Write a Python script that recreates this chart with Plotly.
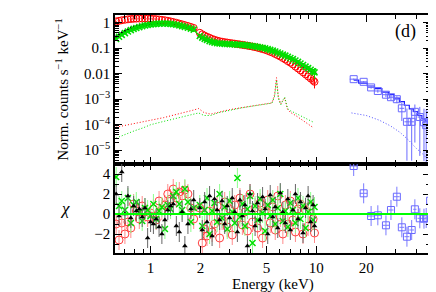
import numpy as np
import plotly.graph_objects as go

# ---------------- data ----------------
E_LO = [0.62, 0.645, 0.67, 0.70, 0.73, 0.76, 0.79, 0.82, 0.855, 0.89,
        0.925, 0.96, 1.0, 1.04, 1.08, 1.125, 1.17, 1.22, 1.27, 1.32,
        1.37, 1.43, 1.49, 1.55, 1.61, 1.68, 1.75, 1.82]
E_HI = [1.98, 2.05, 2.12, 2.19, 2.27, 2.35, 2.43, 2.52, 2.61, 2.70,
        2.80, 2.90, 3.00, 3.11, 3.22, 3.34, 3.46, 3.58, 3.71, 3.84,
        3.98, 4.12, 4.27, 4.42, 4.58, 4.74, 4.91, 5.09, 5.27, 5.46,
        5.65, 5.85, 6.06, 6.28, 6.50, 6.73, 6.97, 7.22, 7.48, 7.75,
        8.02, 8.31, 8.61, 8.92, 9.24, 9.56, 9.75]

RED_LO = [1.12, 1.18, 1.24, 1.30, 1.35, 1.39, 1.42, 1.44, 1.45, 1.45,
          1.45, 1.44, 1.42, 1.40, 1.37, 1.33, 1.29, 1.24, 1.18, 1.12,
          1.06, 0.99, 0.92, 0.86, 0.80, 0.74, 0.68, 0.62]
RED_HI = [0.40, 0.35, 0.31, 0.28, 0.255, 0.23, 0.213, 0.198, 0.187, 0.179,
          0.172, 0.166, 0.160, 0.155, 0.150, 0.145, 0.140, 0.135, 0.130, 0.125,
          0.120, 0.115, 0.110, 0.104, 0.098, 0.092, 0.086, 0.079, 0.072, 0.066,
          0.059, 0.053, 0.047, 0.041, 0.036, 0.031, 0.027, 0.023, 0.019, 0.016,
          0.0135, 0.0113, 0.0094, 0.0078, 0.0065, 0.0054, 0.0048]
GRN_LO = [0.23, 0.28, 0.33, 0.39, 0.45, 0.51, 0.57, 0.62, 0.67, 0.72,
          0.77, 0.81, 0.85, 0.88, 0.90, 0.92, 0.93, 0.93, 0.92, 0.90,
          0.87, 0.83, 0.78, 0.73, 0.68, 0.63, 0.58, 0.53]
GRN_HI = [0.30, 0.26, 0.23, 0.21, 0.19, 0.175, 0.165, 0.158, 0.153, 0.150,
          0.148, 0.146, 0.144, 0.142, 0.140, 0.138, 0.136, 0.134, 0.131, 0.128,
          0.125, 0.121, 0.117, 0.113, 0.108, 0.103, 0.098, 0.092, 0.086, 0.080,
          0.074, 0.068, 0.062, 0.056, 0.051, 0.046, 0.041, 0.037, 0.033, 0.029,
          0.025, 0.022, 0.019, 0.0165, 0.0143, 0.0124, 0.0113]
BLK_LO = [0.27, 0.32, 0.38, 0.44, 0.50, 0.56, 0.62, 0.67, 0.72, 0.77,
          0.81, 0.85, 0.88, 0.91, 0.93, 0.94, 0.95, 0.94, 0.93, 0.91,
          0.88, 0.84, 0.79, 0.74, 0.69, 0.64, 0.59, 0.54]
BLK_HI = [0.29, 0.25, 0.22, 0.20, 0.185, 0.17, 0.16, 0.153, 0.149, 0.146,
          0.144, 0.142, 0.140, 0.138, 0.136, 0.134, 0.132, 0.130, 0.127, 0.124,
          0.121, 0.117, 0.113, 0.109, 0.105, 0.100, 0.095, 0.089, 0.084, 0.078,
          0.072, 0.066, 0.060, 0.055, 0.050, 0.045, 0.040, 0.036, 0.032, 0.028,
          0.0245, 0.0215, 0.0187, 0.0162, 0.014, 0.0121, 0.011]
RELERR_LO = [0.03, 0.03, 0.03, 0.03, 0.03, 0.03, 0.03, 0.03, 0.03, 0.03,
             0.03, 0.03, 0.03, 0.03, 0.03, 0.03, 0.03, 0.03, 0.03, 0.03,
             0.03, 0.03, 0.03, 0.03, 0.03, 0.03, 0.03, 0.03]
RELERR_HI = [0.03, 0.03, 0.03, 0.03, 0.03, 0.03, 0.03, 0.03, 0.03, 0.03,
             0.035, 0.035, 0.035, 0.035, 0.04, 0.04, 0.04, 0.04, 0.045, 0.045,
             0.045, 0.05, 0.05, 0.05, 0.055, 0.055, 0.06, 0.06, 0.065, 0.07,
             0.07, 0.075, 0.08, 0.085, 0.09, 0.095, 0.10, 0.11, 0.12, 0.13,
             0.14, 0.15, 0.16, 0.18, 0.20, 0.24, 0.45]

CHI_BLK_LO = [2.0, -0.2, 4.2, 0.0, 1.8, -0.4, 0.8, 0.3, 0.5, -0.3,
              0.6, -2.4, -0.8, -1.0, -0.5, -1.3, -2.0, -0.6, 0.4, 0.8,
              1.0, -1.2, -1.8, 0.2, -3.2, -1.0, 0.5, 1.4]
CHI_BLK_HI = [0.6, -1.6, 1.2, -0.8, 1.8, -2.2, 1.5, 0.4, -0.6, 1.3,
              -1.0, 0.8, -0.4, 1.6, 0.2, -1.8, 1.4, -0.2, 0.9, -3.2,
              2.0, 0.3, -1.2, 1.1, -0.6, 1.7, 0.5, -2.0, 1.9, -0.3,
              0.7, -1.4, 2.1, 0.2, -0.9, 1.5, -1.6, 0.4, 2.0, -0.5,
              1.2, -1.9, 0.6, 1.8, -0.8, 0.9, -1.2]
CHI_RED_LO = [-1.0, -2.6, -0.9, -2.0, -0.8, -1.4, 1.0, 0.3, -0.5, 0.8,
              0.2, -0.3, 0.1, 0.5, -0.6, 1.3, 0.4, 0.9, 2.0, 1.5,
              2.5, 1.6, 2.2, 1.8, 2.4, 2.0, 0.6, -0.5]
CHI_RED_HI = [0.6, -2.9, -1.5, -2.2, 0.3, -1.8, -1.0, 0.8, -2.4, -0.6,
              1.2, -1.3, 0.5, -2.1, 0.9, -0.4, 1.6, -1.1, 0.2, -1.7,
              2.0, -0.8, 0.6, -1.4, 1.1, -2.4, 0.3, 1.4, -0.9, 0.7,
              -1.6, 1.8, -0.3, -2.0, 0.9, -1.0, 1.3, -0.6, -1.8, 0.5,
              1.0, -2.0, 0.4, -1.2, 0.8, -0.5, -1.9]
CHI_GRN_LO = [3.7, 0.8, 1.3, 0.4, 1.6, -0.9, 0.9, 1.2, 0.2, -0.7,
              0.6, 0.4, -0.2, 1.0, -0.5, 0.3, 0.7, -1.5, 0.9, 0.5,
              1.8, 2.2, 1.0, 0.4, 2.5, 1.2, -0.8, 0.6]
CHI_GRN_HI = [0.9, -1.2, 0.4, 1.6, -2.0, 0.3, 1.1, -0.8, 2.0, -0.4,
              0.7, -1.5, 1.3, 0.2, -0.9, 3.6, -0.3, 1.0, -1.2, 0.5,
              1.8, -2.9, 0.8, -0.6, 1.5, 0.1, -1.7, 0.9, -0.2, 1.4,
              -1.0, 0.6, 2.0, -0.7, 0.3, -1.3, 1.1, 0.4, -0.9, 1.6,
              -0.5, 0.8, -1.4, 0.2, 1.2, -0.6, 0.7]

# dotted (reflection / line) components for XIS
E_COMP = [0.62, 0.7, 0.8, 0.9, 1.0, 1.2, 1.4, 1.6, 1.8, 1.95, 2.1, 2.3, 2.6,
          3.0, 3.5, 4.0, 4.5, 5.0, 5.4, 5.6, 5.75, 5.9, 6.1, 6.3, 6.45,
          6.7, 7.0, 7.5, 8.0, 8.5, 9.0, 9.5]
COMP_RED = [8e-5, 9.5e-5, 1.15e-4, 1.35e-4, 1.5e-4, 1.9e-4, 2.4e-4, 3.1e-4,
            3.7e-4, 4.3e-4, 3.0e-4, 2.6e-4, 3.2e-4, 3.9e-4, 4.6e-4, 5.3e-4,
            6.0e-4, 6.6e-4, 7.2e-4, 1.5e-3, 7.0e-3, 1.2e-3, 6.5e-4, 9e-4,
            1.1e-3, 4.0e-4, 3.0e-4, 2.3e-4, 1.7e-4, 1.3e-4, 1.0e-4, 8.0e-5]
COMP_GRN = [3e-5, 4.2e-5, 5.8e-5, 7.5e-5, 1.0e-4, 1.35e-4, 1.75e-4, 2.2e-4,
            2.6e-4, 2.9e-4, 2.3e-4, 2.3e-4, 3.0e-4, 3.7e-4, 4.5e-4, 5.2e-4,
            5.9e-4, 6.5e-4, 7.0e-4, 1.3e-3, 5.5e-3, 1.1e-3, 6.0e-4, 9.5e-4,
            1.2e-3, 4.3e-4, 3.5e-4, 2.8e-4, 2.3e-4, 1.8e-4, 1.5e-4, 1.3e-4]

# HXD-PIN
E_PIN = [16.8, 19.3, 21.4, 23.5, 26.3, 28.2, 30.6, 32.8, 35.2, 37.6, 39.3, 42.1, 44.6, 46.0, 48.6]
DE_PIN = [0.9, 1.0, 1.0, 1.1, 1.2, 1.0, 1.2, 1.1, 1.2, 1.2, 0.9, 1.3, 1.1, 0.7, 1.3]
PIN = [6.1e-3, 4.8e-3, 2.9e-3, 2.1e-3, 1.5e-3, 1.2e-3, 1.0e-3, 4.4e-4, 1.3e-4,
       1.3e-4, 3.2e-4, 2.0e-4, 1.25e-4, 9.6e-5, 2.3e-4]
PIN_ERR = [3e-4, 3e-4, 3e-4, 3e-4, 3e-4, 3e-4, 3e-4, 3e-4, 3e-4, 3e-4, 3e-4, 3e-4, 3e-4, 3e-4, 3e-4]
PIN_MODEL = [5.6e-3, 4.3e-3, 3.3e-3, 2.6e-3, 1.9e-3, 1.5e-3, 1.1e-3, 8.0e-4, 5.8e-4,
             4.2e-4, 3.3e-4, 2.3e-4, 1.7e-4, 1.4e-4, 1.05e-4]
CHI_PIN = [4.8, 2.07, -0.2, -0.13, -1.13, 0.4, 1.73, -1.33, -2.27, -1.6, 0.47, -0.43, -0.47, -0.4, 1.33]
E_PIN_COMP = [16.3, 20, 24, 28, 32, 36, 40, 44, 48.5]
PIN_COMP = [2.9e-4, 2.3e-4, 1.5e-4, 9e-5, 5e-5, 2.5e-5, 1.2e-5, 7e-6, 3.5e-6]

# ---------------- figure ----------------
FONT = "Liberation Serif, Times New Roman, serif"
RED, GRN, BLK, BLU = "#ff0000", "#00e000", "#000000", "#5050ff"

E = np.array(E_LO + E_HI)
relerr = np.array(RELERR_LO + RELERR_HI)

def yerr(vals):
    v = np.array(vals)
    up = v * relerr
    dn = np.minimum(v * relerr, v * 0.9)
    return dict(type="data", array=up, arrayminus=dn, thickness=1, width=0)

fig = go.Figure()

# dotted components
fig.add_trace(go.Scatter(x=E_COMP, y=COMP_RED, mode="lines",
                         line=dict(color=RED, width=1, dash="1px,2px"), xaxis="x", yaxis="y"))
fig.add_trace(go.Scatter(x=E_COMP, y=COMP_GRN, mode="lines",
                         line=dict(color=GRN, width=1, dash="1px,2px"), xaxis="x", yaxis="y"))
fig.add_trace(go.Scatter(x=E_PIN_COMP, y=PIN_COMP, mode="lines",
                         line=dict(color=BLU, width=1, dash="1px,2px"), xaxis="x", yaxis="y"))

# XIS spectra
blk = np.array(BLK_LO + BLK_HI)
red = np.array(RED_LO + RED_HI)
grn = np.array(GRN_LO + GRN_HI)
fig.add_trace(go.Scatter(x=E, y=blk, mode="markers", error_y=dict(yerr(blk), color="#444444"),
                         marker=dict(symbol="triangle-up", size=5, color=BLK),
                         xaxis="x", yaxis="y"))
fig.add_trace(go.Scatter(x=E, y=red, mode="markers", error_y=dict(yerr(red), color=RED),
                         marker=dict(symbol="circle-open", size=7, color=RED, line=dict(width=1)),
                         xaxis="x", yaxis="y"))
fig.add_trace(go.Scatter(x=E, y=grn, mode="markers", error_y=dict(yerr(grn), color=GRN),
                         marker=dict(symbol="x-thin-open", size=6, color=GRN, line=dict(width=1.6, color=GRN)),
                         xaxis="x", yaxis="y"))

# PIN spectrum
pin = np.array(PIN)
perr = np.array(PIN_ERR)
fig.add_trace(go.Scatter(x=E_PIN, y=PIN_MODEL, mode="lines", line=dict(color="#2020ff", width=1.2, shape="hvh"),
                         xaxis="x", yaxis="y"))
fig.add_trace(go.Scatter(x=E_PIN, y=pin, mode="markers",
                         error_y=dict(type="data", array=perr, arrayminus=np.minimum(perr, pin * 0.97),
                                      color="#6a6aff", thickness=1, width=0),
                         error_x=dict(type="data", array=DE_PIN, color="#6a6aff", thickness=1, width=0),
                         marker=dict(symbol="square-open", size=7, color="#6a6aff", line=dict(width=1)),
                         xaxis="x", yaxis="y"))

# residuals
fig.add_trace(go.Scatter(x=E, y=CHI_RED_LO + CHI_RED_HI, mode="markers",
                         error_y=dict(type="constant", value=1, color="#ff8c8c", thickness=1, width=0),
                         marker=dict(symbol="circle-open", size=8, color="#ff4040", line=dict(width=1)),
                         xaxis="x2", yaxis="y2"))
fig.add_trace(go.Scatter(x=E, y=CHI_GRN_LO + CHI_GRN_HI, mode="markers",
                         error_y=dict(type="constant", value=1, color="#8cff8c", thickness=1, width=0),
                         marker=dict(symbol="x-thin-open", size=6, color=GRN, line=dict(width=1.5, color=GRN)),
                         xaxis="x2", yaxis="y2"))
fig.add_trace(go.Scatter(x=E, y=CHI_BLK_LO + CHI_BLK_HI, mode="markers",
                         error_y=dict(type="constant", value=1, color="#666666", thickness=1, width=0),
                         marker=dict(symbol="triangle-up", size=5, color=BLK),
                         xaxis="x2", yaxis="y2"))
fig.add_trace(go.Scatter(x=E_PIN, y=CHI_PIN, mode="markers",
                         error_y=dict(type="constant", value=1, color="#7a7aff", thickness=1, width=0),
                         error_x=dict(type="data", array=DE_PIN, color="#7a7aff", thickness=1, width=0),
                         marker=dict(symbol="square-open", size=7, color="#6a6aff", line=dict(width=1)),
                         xaxis="x2", yaxis="y2"))

XR = [np.log10(0.61), np.log10(48.5)]
xminor = [0.7, 0.8, 0.9, 3, 4, 6, 7, 8, 9, 30, 40]
common_x = dict(type="log", range=XR, showgrid=False, zeroline=False, showline=True,
                linecolor="black", linewidth=1.5, mirror="allticks", ticks="inside",
                tickvals=[1, 2, 5, 10, 20], ticktext=["1", "2", "5", "10", "20"],
                ticklen=7, tickwidth=1.3, tickcolor="black",
                minor=dict(tickvals=xminor, ticklen=4, tickwidth=1.1, tickcolor="black", ticks="inside"),
                tickfont=dict(family=FONT, size=15, color="black"))

ydec = [1e-5, 1e-4, 1e-3, 1e-2, 1e-1, 1]
yminor = [m * d for d in [1e-6, 1e-5, 1e-4, 1e-3, 1e-2, 1e-1, 1] for m in range(2, 10)]

# the page body adds an 8px offset, so the figure is 8px smaller and margins shifted
fig.update_layout(
    width=428, height=284,
    margin=dict(l=107, r=4, t=7, b=39),
    paper_bgcolor="white", plot_bgcolor="white",
    showlegend=False,
    xaxis=dict(common_x, anchor="y", showticklabels=False),
    xaxis2=dict(common_x, anchor="y2", showticklabels=True, matches="x"),
    yaxis=dict(type="log", domain=[0.376, 1], range=[-5.52, 0.3], showgrid=False, zeroline=False,
               showline=True, linecolor="black", linewidth=1.5, mirror="allticks", ticks="inside",
               tickvals=ydec, ticktext=["10<sup>−5</sup>", "10<sup>−4</sup>", "10<sup>−3</sup>", "0.01", "0.1", "1"],
               ticklen=7, tickwidth=1.3, tickcolor="black",
               minor=dict(tickvals=yminor, ticklen=4, tickwidth=1, tickcolor="black", ticks="inside"),
               tickfont=dict(family=FONT, size=15, color="black"), anchor="x"),
    yaxis2=dict(domain=[0, 0.376], range=[-3.9, 5.05], showgrid=False, zeroline=False,
                showline=True, linecolor="black", linewidth=1.5, mirror="allticks", ticks="inside",
                tickvals=[-2, 0, 2, 4], ticktext=["−2", "0", "2", "4"],
                ticklen=7, tickwidth=1.3, tickcolor="black",
                minor=dict(dtick=1, ticklen=4, tickwidth=1, tickcolor="black", ticks="inside"),
                tickfont=dict(family=FONT, size=15, color="black"), anchor="x2"),
    shapes=[dict(type="line", xref="x2 domain", yref="y2", x0=0, x1=1, y0=0, y1=0,
                 line=dict(color="#00ff00", width=2), layer="above")],
    annotations=[
        dict(text="Norm. counts s<sup>−1</sup> keV<sup>−1</sup>", xref="paper", yref="paper",
             x=-0.167, y=0.688, xanchor="center", yanchor="middle", textangle=-90, showarrow=False,
             font=dict(family=FONT, size=15, color="black")),
        dict(text="<i>χ</i>", xref="paper", yref="paper", x=-0.158, y=0.188, xanchor="center",
             yanchor="middle", showarrow=False, font=dict(family=FONT, size=17, color="black")),
        dict(text="Energy (keV)", xref="paper", yref="paper", x=0.5, y=-0.133, xanchor="center",
             yanchor="middle", showarrow=False, font=dict(family=FONT, size=15, color="black")),
        dict(text="(d)", xref="paper", yref="paper", x=0.921, y=0.9286, xanchor="center",
             yanchor="middle", showarrow=False, font=dict(family=FONT, size=18, color="black")),
    ],
)

fig.write_html("out.html")
